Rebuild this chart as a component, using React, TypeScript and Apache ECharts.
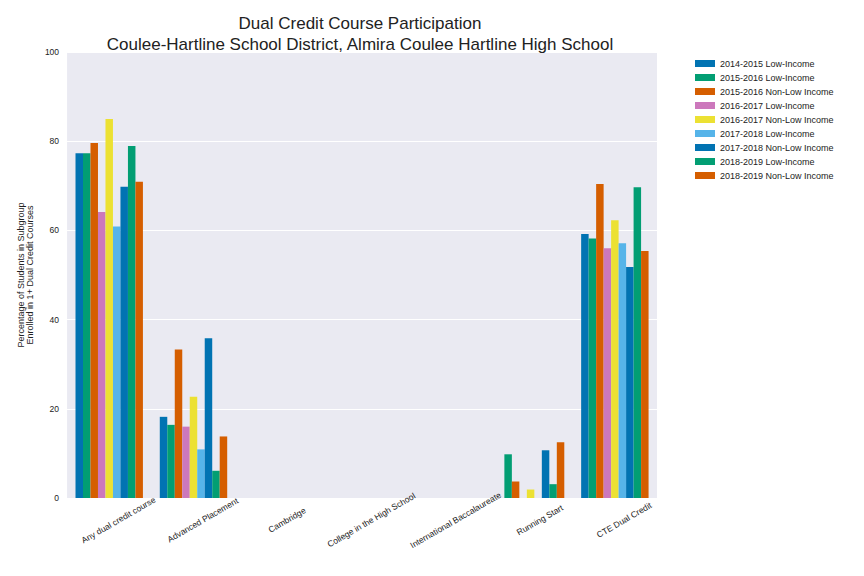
import React, { useEffect, useRef } from "react";
import * as echarts from "echarts";

const categories = ["Any dual credit course", "Advanced Placement", "Cambridge", "College in the High School", "International Baccalaureate", "Running Start", "CTE Dual Credit"];
const seriesNames = ["2014-2015 Low-Income", "2015-2016 Low-Income", "2015-2016 Non-Low Income", "2016-2017 Low-Income", "2016-2017 Non-Low Income", "2017-2018 Low-Income", "2017-2018 Non-Low Income", "2018-2019 Low-Income", "2018-2019 Non-Low Income"];
const s0 = [77.3, 18.2, 0, 0, 0, 0, 59.2];
const s1 = [77.3, 16.4, 0, 0, 0, 9.8, 58.2];
const s2 = [79.6, 33.3, 0, 0, 0, 3.7, 70.4];
const s3 = [64.1, 16.0, 0, 0, 0, 0, 56.0];
const s4 = [85.0, 22.7, 0, 0, 0, 1.9, 62.3];
const s5 = [60.9, 10.9, 0, 0, 0, 0, 57.1];
const s6 = [69.8, 35.8, 0, 0, 0, 10.7, 51.8];
const s7 = [78.9, 6.1, 0, 0, 0, 3.1, 69.7];
const s8 = [70.9, 13.8, 0, 0, 0, 12.5, 55.4];
const seriesValues = [s0, s1, s2, s3, s4, s5, s6, s7, s8];
const colors = ["#0173b2", "#029e73", "#d55e00", "#cc78bc", "#ece133", "#56b4e9", "#0173b2", "#029e73", "#d55e00"];

export default function App() {
  const ref = useRef<HTMLDivElement>(null);
  useEffect(() => {
    const chart = echarts.init(ref.current!, null, { renderer: "svg" });
    chart.setOption({
      animation: false,
      color: colors,
      textStyle: { fontFamily: "Liberation Sans" },
      title: {
        text: "Dual Credit Course Participation\nCoulee-Hartline School District, Almira Coulee Hartline High School",
        left: 347, top: 0, textAlign: "center",
        textStyle: { fontSize: 17, fontWeight: "normal", color: "#222", lineHeight: 21 },
      },
      legend: {
        orient: "vertical", left: 682, top: 46, itemWidth: 20, itemHeight: 7, itemGap: 5,
        icon: "rect", textStyle: { fontSize: 9, color: "#222" },
        data: seriesNames,
      },
      grid: { left: 45, right: 199, top: 44, bottom: 70, backgroundColor: "#eaeaf2", show: true, borderWidth: 0 },
      xAxis: {
        type: "category", data: categories,
        axisLine: { show: false }, axisTick: { show: false },
        axisLabel: { rotate: 30, fontSize: 8.5, color: "#222", interval: 0, margin: 6, align: "center", verticalAlign: "top", padding: [14, 0, 0, 0] },
      },
      yAxis: {
        type: "value", min: 0, max: 100, interval: 20,
        name: "Percentage of Students in Subgroup\nEnrolled in 1+ Dual Credit Courses",
        nameLocation: "middle", nameGap: 22, nameTextStyle: { fontSize: 9, color: "#222" },
        axisLabel: { fontSize: 8.5, color: "#222" },
        splitLine: { lineStyle: { color: "#fff", width: 1 } },
        axisLine: { show: false }, axisTick: { show: false },
      },
      series: seriesValues.map((d, i) => ({
        name: seriesNames[i], type: "bar", data: d, barGap: "0%", barCategoryGap: "20%",
      })),
    });
    return () => chart.dispose();
  }, []);
  return <div ref={ref} style={{ width: 848, height: 560 }} />;
}
